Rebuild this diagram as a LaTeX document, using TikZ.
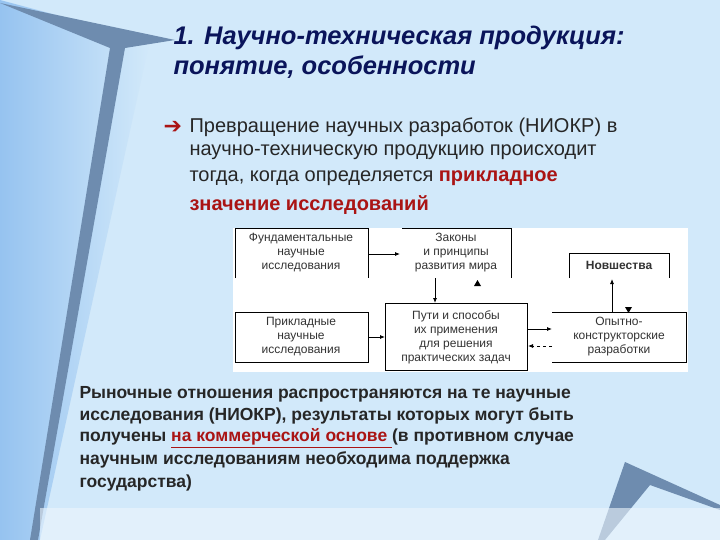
\documentclass[tikz,border=0pt]{standalone}
\usepackage{fontspec}
\setmainfont{Liberation Sans}
\newfontfamily\symfont{DejaVu Sans}
\usetikzlibrary{arrows.meta}
\definecolor{bgA}{RGB}{210,233,250}
\definecolor{bgB}{RGB}{150,195,240}
\definecolor{wedge}{RGB}{110,140,175}
\definecolor{navy}{RGB}{10,20,90}
\definecolor{darkred}{RGB}{170,20,20}
\tikzset{
 bx/.style={draw=black,line width=0.8pt},
 lbl/.style={font=\fontsize{12}{14}\selectfont,align=center,text=black!80},
 ar/.style={-{Latex[length=5pt,width=4pt]},line width=0.8pt},
}
\begin{document}
\begin{tikzpicture}[x=1pt,y=-1pt]
\useasboundingbox (0,0) rectangle (720,540);
\fill[bgA] (0,0) rectangle (720,540);
\shade[left color=bgB,right color=bgA] (0,0) -- (150,40) -- (40,540) -- (0,540) -- cycle;
\fill[wedge] (0,3) -- (175,40) -- (125,48) -- (38,540) -- (30,540) -- (110,48) -- cycle;
\fill[wedge] (625,462) -- (720,505) -- (720,510) -- (650,485) -- (605,540) -- (598,540) -- cycle;
\fill[bgA!40!white,opacity=0.6] (40,508) rectangle (720,540);
% title
\node[anchor=west,text=navy,font=\fontsize{25.5}{28}\selectfont\bfseries\itshape] (t1) at (170,38) {1. Научно-техническая продукция:};
\node[anchor=west,text=navy,font=\fontsize{25.5}{28}\selectfont\bfseries\itshape] (t2) at (170,67) {понятие, особенности};
% bullet
\node[anchor=west,text=darkred,font=\fontsize{22}{24}\selectfont\symfont\bfseries] (arr) at (160,127) {➔};
\begin{scope}[every node/.style={anchor=west,font=\fontsize{20}{22}\selectfont,text=black!85}]
\node (b1) at (186,127) {Превращение научных разработок (НИОКР) в};
\node (b2) at (186,152) {научно-техническую продукцию происходит};
\node (b3) at (186,178) {тогда, когда определяется \textcolor{darkred}{\bfseries прикладное}};
\node (b4) at (186,205) {\textcolor{darkred}{\bfseries значение исследований}};
\end{scope}
% diagram
\fill[white] (233,228) rectangle (688,372);
\draw[bx] (235,278) -- (235,228) -- (368,228) -- (368,278);
\node[lbl] (fund) at (301,253) {Фундаментальные\\научные\\исследования};
\draw[bx] (402,228) -- (511,228) -- (511,278);
\node[lbl] (zak) at (456,253) {Законы\\и принципы\\развития мира};
\draw[bx] (569,278) -- (569,253) -- (669,253) -- (669,278);
\node[lbl,font=\fontsize{12}{14}\selectfont\bfseries] (nov) at (619,265) {Новшества};
\draw[bx] (235,312) rectangle (368,362);
\node[lbl] (prik) at (301,337) {Прикладные\\научные\\исследования};
\draw[bx] (385,303) rectangle (527,370);
\node[lbl] (puti) at (456,337) {Пути и способы\\их применения\\для решения\\практических задач};
\draw[bx] (552,312) -- (686,312) -- (686,362) -- (552,362);
\node[lbl] (opyt) at (619,337) {Опытно-\\конструкторские\\разработки};
\coordinate (f1) at (368,254); \coordinate (z1) at (400,254);
\draw[ar] (f1) -- (z1);
\coordinate (z2) at (435,278); \coordinate (p1) at (435,303);
\draw[ar] (z2) -- (p1);
\coordinate (pr1) at (368,337); \coordinate (p2) at (385,337);
\draw[ar] (pr1) -- (p2);
\coordinate (p3) at (527,329); \coordinate (o1) at (552,329);
\draw[ar] (p3) -- (o1);
\coordinate (o2) at (552,346); \coordinate (p4) at (528,346);
\draw[ar,dashed] (o2) -- (p4);
\coordinate (o3) at (612,312); \coordinate (n1) at (612,279);
\draw[ar] (o3) -- (n1);
\fill (474,286) -- (481,286) -- (477.5,280) -- cycle;
\fill (625,307) -- (632,307) -- (628.5,313) -- cycle;
% bottom paragraph
\begin{scope}[every node/.style={anchor=west,font=\fontsize{17.5}{20}\selectfont\bfseries,text=black!85}]
\node (c1) at (76,394) {Рыночные отношения распространяются на те научные};
\node (c2) at (76,416) {исследования (НИОКР), результаты которых могут быть};
\node (c3) at (76,438) {получены \textcolor{darkred}{\underline{на коммерческой основе }}(в противном случае};
\node (c4) at (76,460) {научным исследованиям необходима поддержка};
\node (c5) at (76,483) {государства)};
\end{scope}
\end{tikzpicture}
\end{document}
